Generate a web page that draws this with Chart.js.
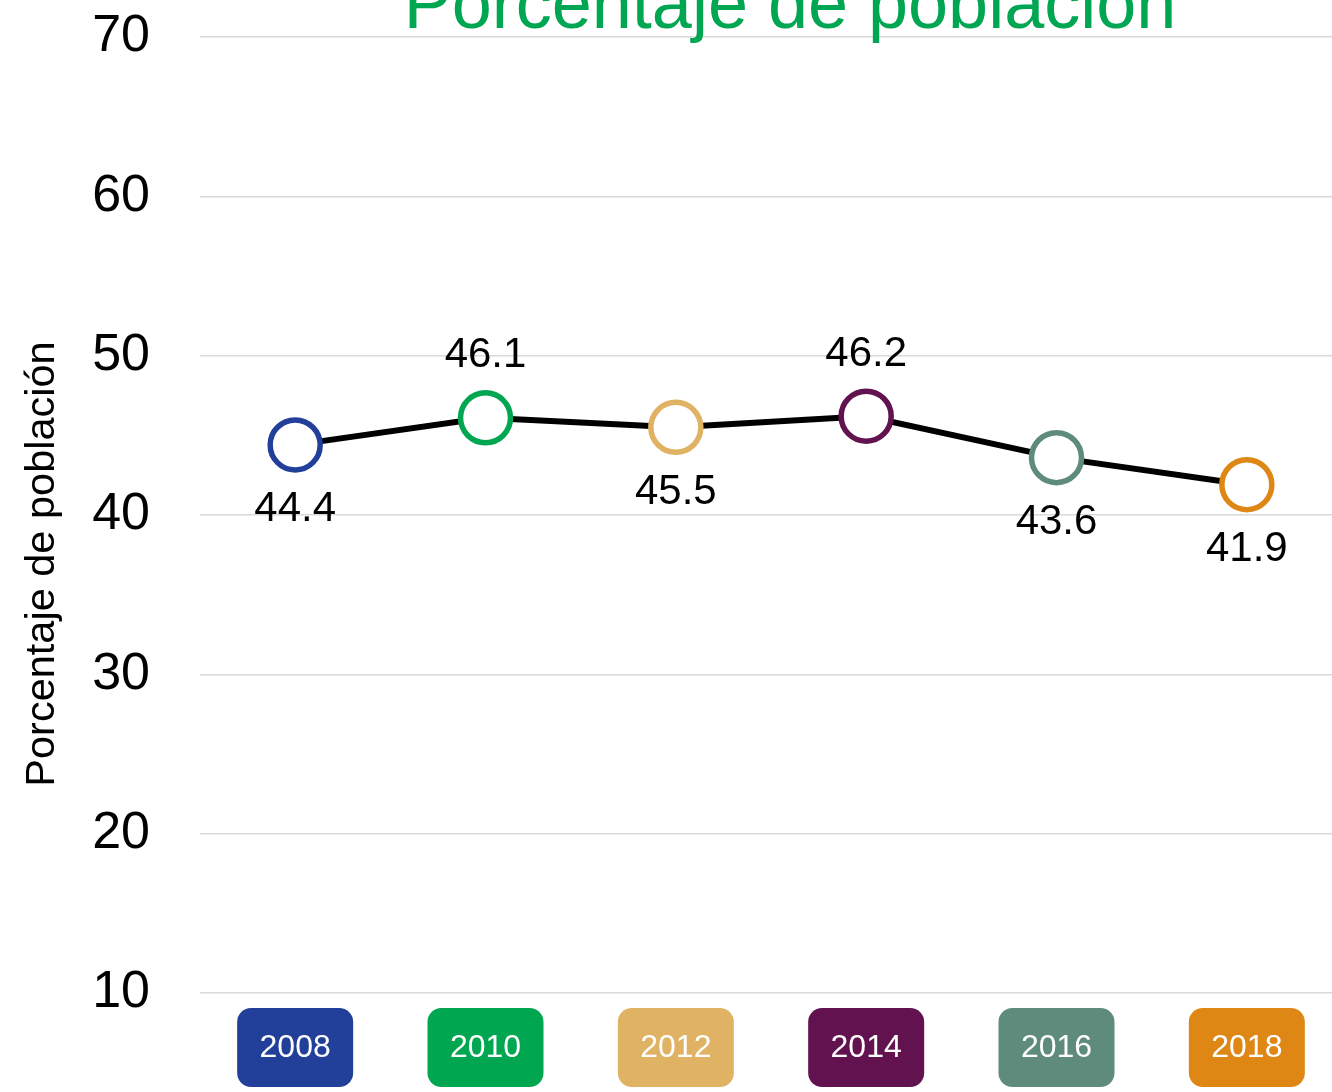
<!DOCTYPE html>
<html>
<head>
<meta charset="utf-8">
<script src="https://cdn.jsdelivr.net/npm/chart.js"></script>
<style>
  html, body { margin: 0; background: #fff; overflow: hidden; }
  canvas { display: block; }
</style>
</head>
<body>
<canvas id="chart" width="1342" height="1092"></canvas>
<script>
const years = ['2008', '2010', '2012', '2014', '2016', '2018'];
const values = [44.4, 46.1, 45.5, 46.2, 43.6, 41.9];
const yearColors = ['#22409A', '#00A650', '#E0B264', '#62124E', '#5E8B7C', '#DF8714'];
const labelSide = ['below', 'above', 'below', 'above', 'below', 'below'];
const yTicks = [10, 20, 30, 40, 50, 60, 70];
const title = 'Porcentaje de población';
const yTitle = 'Porcentaje de población';

const font = '"Liberation Sans", Arial, sans-serif';

// title, axis title, value labels and the coloured year boxes
const extras = {
  id: 'extras',
  afterDatasetsDraw(chart) {
    const ctx = chart.ctx;
    const meta = chart.getDatasetMeta(0);
    ctx.save();
    ctx.font = '42px ' + font;
    ctx.fillStyle = '#000';
    ctx.textAlign = 'center';
    ctx.textBaseline = 'middle';
    meta.data.forEach((pt, i) => {
      const dy = labelSide[i] === 'above' ? -62 : 65;
      ctx.fillText(values[i].toFixed(1), pt.x, pt.y + dy);
    });
    ctx.restore();
  },
  afterDraw(chart) {
    const ctx = chart.ctx;
    const xs = chart.scales.x;
    ctx.save();

    years.forEach((y, i) => {
      const cx = xs.getPixelForTick(i);
      const w = 116, h = 79, top = 1008;
      ctx.fillStyle = yearColors[i];
      ctx.beginPath();
      ctx.roundRect(cx - w / 2, top, w, h, 14);
      ctx.fill();
      ctx.fillStyle = '#fff';
      ctx.font = '32px ' + font;
      ctx.textAlign = 'center';
      ctx.textBaseline = 'middle';
      ctx.fillText(y, cx, top + h / 2 + 1);
    });

    ctx.fillStyle = '#00A651';
    ctx.font = '72px ' + font;
    ctx.textAlign = 'center';
    ctx.textBaseline = 'alphabetic';
    ctx.fillText(title, 790, 28);

    ctx.translate(43, 564);
    ctx.rotate(-Math.PI / 2);
    ctx.fillStyle = '#000';
    ctx.font = '41.5px ' + font;
    ctx.textBaseline = 'middle';
    ctx.fillText(yTitle, 0, 0);
    ctx.restore();
  }
};

new Chart(document.getElementById('chart').getContext('2d'), {
  type: 'line',
  data: {
    labels: years,
    datasets: [{
      data: values,
      borderColor: '#000',
      borderWidth: 6,
      tension: 0,
      pointRadius: 25,
      pointHoverRadius: 25,
      pointBorderWidth: 5.5,
      pointHoverBorderWidth: 5.5,
      pointBackgroundColor: '#fff',
      pointBorderColor: yearColors
    }]
  },
  options: {
    responsive: false,
    animation: false,
    layout: { autoPadding: false, padding: { top: 37, bottom: 99, left: 0, right: 0 } },
    plugins: { legend: { display: false }, tooltip: { enabled: false } },
    scales: {
      x: {
        offset: true,
        ticks: { display: false },
        grid: { display: false },
        border: { display: false },
        afterFit(axis) {
          axis.height = 0;
          axis.paddingLeft = 0;
          axis.paddingRight = 0;
        }
      },
      y: {
        min: 10,
        max: 70,
        afterBuildTicks(axis) { axis.ticks = yTicks.map(v => ({ value: v })); },
        afterFit(axis) {
          axis.width = 200;
          axis.paddingTop = 0;
          axis.paddingBottom = 0;
        },
        ticks: { color: '#000', padding: 50, font: { size: 52, family: font } },
        grid: { color: '#d9d9d9', lineWidth: 1.5, drawTicks: false },
        border: { display: false }
      }
    }
  },
  plugins: [extras]
});
</script>
</body>
</html>
